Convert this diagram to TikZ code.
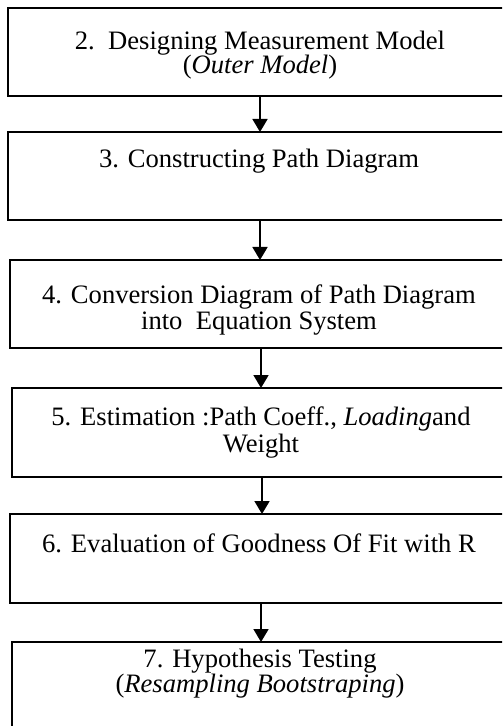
\documentclass[tikz,border=0pt]{standalone}
\usepackage{fontspec}
\setmainfont{Liberation Serif}
\usetikzlibrary{arrows.meta}
\begin{document}
\begin{tikzpicture}[x=0.5pt,y=-0.5pt,
  stepbox/.style={draw, line width=1pt, rectangle, anchor=north west, minimum height=44pt, inner sep=0pt, outer sep=0pt},
  txt/.style={anchor=base, inner sep=0pt, font=\fontsize{13.3}{16}\selectfont},
  flow/.style={line width=0.9pt, -{Triangle[width=7.5pt,length=6.5pt]}}]
\clip (0,0) rectangle (502,726);
\fill[white] (0,0) rectangle (502,726);
% boxes
\node[stepbox, minimum width=252pt] (b1) at (8,8) {};
\node[stepbox, minimum width=252pt] (b2) at (8,132) {};
\node[stepbox, minimum width=251pt] (b3) at (10,260) {};
\node[stepbox, minimum width=250pt, minimum height=44.5pt] (b4) at (12,388) {};
\node[stepbox, minimum width=251pt, minimum height=44.5pt] (b5) at (10,514) {};
\node[stepbox, minimum width=250pt] (b6) at (12,642) {};
% texts
\node[txt] (t1a) at (260,50) {2.\ \ Designing Measurement Model};
\node[txt] (t1b) at (260,74) {(\textit{Outer Model})};
\node[txt] (t2a) at (259,168) {3. Constructing Path Diagram};
\node[txt] (t3a) at (259,304) {4. Conversion Diagram of Path Diagram};
\node[txt] (t3b) at (259,329.5) {into\ \ Equation System};
\node[txt] (t4a) at (261,425) {5. Estimation :Path Coeff., \textit{Loading}and};
\node[txt] (t4b) at (261,452) {Weight};
\node[txt] (t5a) at (259,552) {6. Evaluation of Goodness Of Fit with R};
\node[txt] (t6a) at (260,667) {7. Hypothesis Testing};
\node[txt] (t6b) at (260,692) {(\textit{Resampling Bootstraping})};
% arrows
\coordinate (a1) at (260,96);
\coordinate (a2) at (260,220);
\coordinate (a3) at (261,348);
\coordinate (a4) at (262,477);
\coordinate (a5) at (261,603);
\draw[flow] (a1) -- (a1 |- b2.north);
\draw[flow] (a2) -- (a2 |- b3.north);
\draw[flow] (a3) -- (a3 |- b4.north);
\draw[flow] (a4) -- (a4 |- b5.north);
\draw[flow] (a5) -- (a5 |- b6.north);
\end{tikzpicture}
\end{document}
